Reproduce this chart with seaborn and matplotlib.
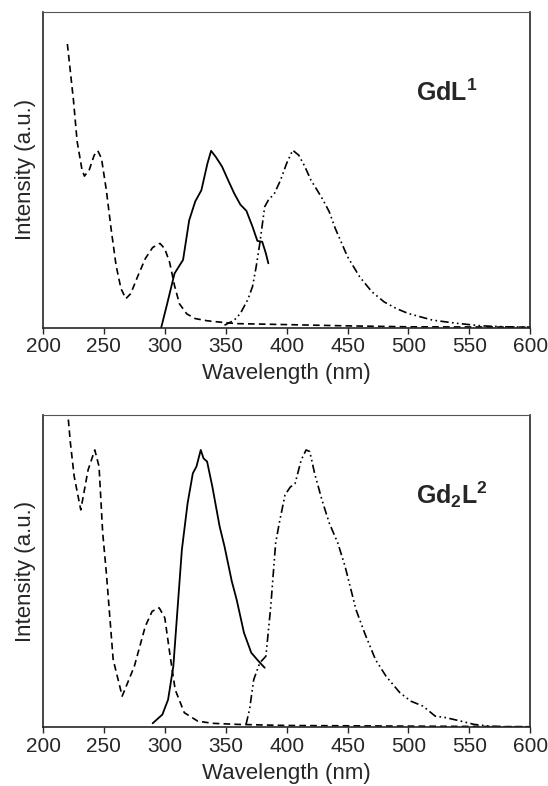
import numpy as np
import pandas as pd
import matplotlib
matplotlib.use('Agg')
import matplotlib.pyplot as plt
import seaborn as sns

sns.set_style('ticks')
plt.rcParams['font.family'] = ['Liberation Sans', 'DejaVu Sans']
plt.rcParams['mathtext.fontset'] = 'custom'
plt.rcParams['mathtext.rm'] = 'Liberation Sans'
plt.rcParams['mathtext.bf'] = 'Liberation Sans:bold'

# --- GdL1 (top) ---
abs1_x = [220, 225, 228, 232, 234, 238, 242, 245, 248, 252, 256, 260, 264, 268, 272, 278,
          284, 290, 296, 300, 304, 308, 312, 318, 325, 335, 350, 360, 400, 450, 500, 600]
abs1_y = [0.898, 0.72, 0.59, 0.50, 0.48, 0.50, 0.546, 0.56, 0.536, 0.435, 0.31, 0.197, 0.124,
          0.092, 0.108, 0.165, 0.219, 0.254, 0.267, 0.25, 0.206, 0.133, 0.076, 0.044, 0.029,
          0.022, 0.016, 0.013, 0.01, 0.006, 0.003, 0.002]

exc1_x = [297, 302, 308, 315, 320, 325, 330, 335, 338, 342, 347, 352, 357, 362, 367, 372,
          376, 380, 383, 385]
exc1_y = [0.0, 0.077, 0.172, 0.215, 0.34, 0.40, 0.435, 0.52, 0.56, 0.54, 0.51, 0.467, 0.425,
          0.39, 0.37, 0.32, 0.275, 0.272, 0.235, 0.204]

em1_x = [349, 357, 362, 368, 372, 375, 378, 382, 385, 390, 395, 400, 405, 410, 415, 420, 425,
         430, 435, 440, 450, 460, 470, 480, 490, 500, 520, 540, 560, 580, 600]
em1_y = [0.008, 0.024, 0.045, 0.088, 0.13, 0.193, 0.267, 0.383, 0.404, 0.425, 0.467, 0.52,
         0.562, 0.546, 0.51, 0.467, 0.436, 0.404, 0.367, 0.314, 0.225, 0.161, 0.114, 0.082,
         0.061, 0.045, 0.024, 0.014, 0.006, 0.003, 0.002]

# --- Gd2L2 (bottom) ---
abs2_x = [220, 222.5, 225.6, 231, 237, 242.5, 246, 249, 252, 257.6, 265, 275, 284, 289.6,
          295.4, 300, 304, 308.5, 316, 327, 339, 360, 400, 500, 600]
abs2_y = [1.02, 0.91, 0.803, 0.696, 0.824, 0.888, 0.835, 0.622, 0.494, 0.216, 0.099, 0.195,
          0.323, 0.371, 0.382, 0.35, 0.238, 0.12, 0.046, 0.019, 0.012, 0.0085, 0.005, 0.003,
          0.001]

exc2_x = [290, 298, 302.7, 307, 310, 314, 318.7, 323, 326, 329.5, 331.8, 334.7, 339, 345,
          349, 355, 359, 365, 371, 377, 382]
exc2_y = [0.012, 0.04, 0.088, 0.195, 0.355, 0.568, 0.717, 0.813, 0.835, 0.888, 0.861, 0.851,
          0.771, 0.643, 0.579, 0.467, 0.408, 0.302, 0.238, 0.211, 0.19]

em2_x = [366.7, 369.6, 373, 378, 383, 387, 391, 394, 398.7, 403, 407, 412, 416, 419, 423,
         429, 435, 442, 448, 457, 464, 473, 481.6, 493, 502, 512, 522, 531, 543, 554, 566,
         577, 600]
em2_y = [0.0085, 0.057, 0.152, 0.206, 0.227, 0.387, 0.59, 0.654, 0.744, 0.769, 0.781, 0.856,
         0.888, 0.883, 0.813, 0.728, 0.654, 0.59, 0.515, 0.376, 0.302, 0.216, 0.163, 0.11,
         0.083, 0.067, 0.035, 0.03, 0.019, 0.0085, 0.003, 0.001, 0.001]

panels = [
    ((abs1_x, abs1_y), (exc1_x, exc1_y), (em1_x, em1_y), r'GdL$^{\mathbf{1}}$'),
    ((abs2_x, abs2_y), (exc2_x, exc2_y), (em2_x, em2_y), r'Gd$_{\mathbf{2}}$L$^{\mathbf{2}}$'),
]

fig = plt.figure(figsize=(5.48, 7.86), dpi=100)
ax_top = fig.add_axes([0.0785, 0.583, 0.889, 0.402])
ax_bot = fig.add_axes([0.0785, 0.075, 0.889, 0.397])

for ax, (a, e, m, label) in zip([ax_top, ax_bot], panels):
    sns.lineplot(x=a[0], y=a[1], ax=ax, color='black', lw=1.2, linestyle=(0, (4, 2.5)),
                 sort=False)
    sns.lineplot(x=e[0], y=e[1], ax=ax, color='black', lw=1.3, linestyle='-', sort=False)
    sns.lineplot(x=m[0], y=m[1], ax=ax, color='black', lw=1.2,
                 linestyle=(0, (5, 2, 1, 2, 1, 2)), sort=False)

    ax.set_xlim(200, 600)
    ax.set_ylim(0, 1)
    ax.set_xticks(np.arange(200, 601, 50))
    ax.set_yticks([])
    ax.tick_params(axis='x', direction='out', length=4, width=1, labelsize=15, pad=3)
    ax.set_xlabel('Wavelength (nm)', fontsize=16, labelpad=5)
    ax.set_ylabel('Intensity (a.u.)', fontsize=16, labelpad=5)
    for side in ['left', 'bottom', 'right']:
        ax.spines[side].set_linewidth(1.2)
    ax.spines['top'].set_linewidth(0.8)
    ax.spines['top'].set_color('#555555')
    ax.text(0.765, 0.745, label, transform=ax.transAxes, fontsize=18, fontweight='bold',
            ha='left', va='center')

fig.savefig('out.png', dpi=100)
